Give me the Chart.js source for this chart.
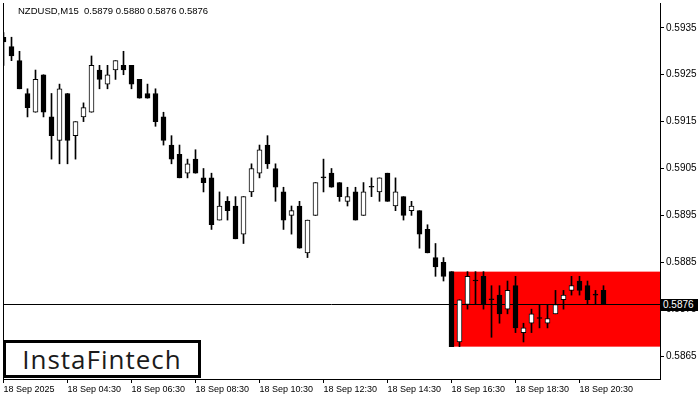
<!DOCTYPE html>
<html>
<head>
<meta charset="utf-8">
<script src="https://cdn.jsdelivr.net/npm/chart.js@4.4.1/dist/chart.umd.min.js"></script>
<style>
  html, body { margin: 0; padding: 0; background: #fff; }
  #wrap { position: relative; width: 700px; height: 400px; overflow: hidden; }
  #title { position: absolute; left: 18px; top: 5px; font: 9.5px "Liberation Sans", Arial, sans-serif; color: #000; white-space: pre; }
  #logo { position: absolute; left: 3px; top: 340px; width: 198px; height: 38px; box-sizing: border-box;
          border: 3px solid #000; background: #fff; font: 26px "Open Sans", sans-serif; letter-spacing: 1px; color: #1b1b1b;
          display: flex; align-items: center; justify-content: center; }
  #price { position: absolute; left: 661px; width: 37px; height: 12px; background: #000; color: #fff;
           font: 10px "Liberation Sans", Arial, sans-serif; line-height: 12px; box-sizing: border-box; padding-left: 2px; }
</style>
</head>
<body>
<div id="wrap">
  <canvas id="chart" width="700" height="400"></canvas>
  <div id="title"></div>
  <div id="logo">InstaFintech</div>
  <div id="price"></div>
</div>
<script>
const symbol = 'NZDUSD,M15';

// M15 candles, 18 Sep 02:30 .. 21:15
const opens = [
  0.5933, 0.5931, 0.5928, 0.5921, 0.5917, 0.5925, 0.5916, 0.5911, 0.5921, 0.5912,
  0.5916, 0.5917, 0.5926, 0.5923, 0.5926, 0.5927, 0.5927, 0.5924, 0.5921, 0.5921,
  0.5916, 0.5910, 0.5908, 0.5904, 0.5907, 0.5903, 0.5903, 0.5894, 0.5898, 0.5897,
  0.5891, 0.5900, 0.5904, 0.5910, 0.5905, 0.5900, 0.5895, 0.5897, 0.5887, 0.5895,
  0.5903, 0.5904, 0.5902, 0.5898, 0.5900, 0.5895, 0.5901, 0.5900, 0.5904, 0.5897,
  0.5899, 0.5896, 0.5896, 0.5892, 0.5886, 0.5885, 0.5883, 0.5868, 0.5876, 0.5881,
  0.5882, 0.5877, 0.5878, 0.5875, 0.5880, 0.5870, 0.5872, 0.5873, 0.5872, 0.5874,
  0.5877, 0.5879, 0.5881, 0.5880, 0.5878, 0.5879
];
const highs = [
  0.5934, 0.5933, 0.5930, 0.5922, 0.5926, 0.5925, 0.5921, 0.5923, 0.5921, 0.5915,
  0.5919, 0.5929, 0.5927, 0.5927, 0.5928, 0.5930, 0.5927, 0.5924, 0.5923, 0.5922,
  0.5917, 0.5912, 0.5910, 0.5907, 0.5909, 0.5905, 0.5904, 0.5900, 0.5899, 0.5899,
  0.5899, 0.5906, 0.5910, 0.5912, 0.5906, 0.5901, 0.5897, 0.5898, 0.5894, 0.5902,
  0.5907, 0.5905, 0.5902, 0.5901, 0.5901, 0.5902, 0.5903, 0.5903, 0.5904, 0.5903,
  0.5899, 0.5898, 0.5896, 0.5893, 0.5889, 0.5886, 0.5883, 0.5877, 0.5883, 0.5883,
  0.5883, 0.5880, 0.5880, 0.5881, 0.5882, 0.5872, 0.5875, 0.5876, 0.5876, 0.5879,
  0.5879, 0.5882, 0.5882, 0.5881, 0.5879, 0.5880
];
const lows = [
  0.5927, 0.5928, 0.5922, 0.5916, 0.5917, 0.5916, 0.5907, 0.5906, 0.5906, 0.5907,
  0.5915, 0.5917, 0.5922, 0.5922, 0.5924, 0.5925, 0.5922, 0.5920, 0.5920, 0.5914,
  0.5910, 0.5906, 0.5903, 0.5903, 0.5904, 0.5900, 0.5892, 0.5894, 0.5894, 0.5890,
  0.5889, 0.5899, 0.5903, 0.5905, 0.5898, 0.5892, 0.5891, 0.5888, 0.5886, 0.5895,
  0.5900, 0.5901, 0.5898, 0.5897, 0.5894, 0.5895, 0.5899, 0.5898, 0.5898, 0.5896,
  0.5894, 0.5895, 0.5888, 0.5887, 0.5882, 0.5881, 0.5867, 0.5867, 0.5875, 0.5876,
  0.5875, 0.5869, 0.5872, 0.5874, 0.5870, 0.5868, 0.5870, 0.5871, 0.5871, 0.5874,
  0.5875, 0.5878, 0.5878, 0.5876, 0.5876, 0.5876
];
const closes = [
  0.5932, 0.5929, 0.5922, 0.5918, 0.5924, 0.5917, 0.5912, 0.5922, 0.5911, 0.5915,
  0.5918, 0.5927, 0.5924, 0.5925, 0.5928, 0.5926, 0.5923, 0.5920, 0.5920, 0.5915,
  0.5911, 0.5907, 0.5903, 0.5906, 0.5904, 0.5902, 0.5893, 0.5897, 0.5896, 0.5890,
  0.5899, 0.5905, 0.5909, 0.5906, 0.5901, 0.5894, 0.5896, 0.5888, 0.5894, 0.5902,
  0.5903, 0.5901, 0.5899, 0.5899, 0.5894, 0.5900, 0.5901, 0.5903, 0.5898, 0.5900,
  0.5895, 0.5897, 0.5891, 0.5887, 0.5884, 0.5882, 0.5867, 0.5877, 0.5882, 0.5881,
  0.5876, 0.5877, 0.5874, 0.5879, 0.5871, 0.5871, 0.5874, 0.5873, 0.5873, 0.5876,
  0.5878, 0.5880, 0.5879, 0.5877, 0.5878, 0.5876
];

// time axis labels, one every 8 bars (2 hours)
const tickLabels = ['18 Sep 2025', '18 Sep 04:30', '18 Sep 06:30', '18 Sep 08:30', '18 Sep 10:30',
                    '18 Sep 12:30', '18 Sep 14:30', '18 Sep 16:30', '18 Sep 18:30', '18 Sep 20:30'];
const tickEvery = 8;
const priceTicks = [0.5865, 0.5875, 0.5885, 0.5895, 0.5905, 0.5915, 0.5925, 0.5935];

// pattern zone (red box)
const patternStart = 56;
const patternHigh = 0.5883;
const patternLow = 0.5867;

const last = closes.length - 1;
const fmt = v => v.toFixed(4);

document.getElementById('title').textContent =
  symbol + '  ' + [opens[last], highs[last], lows[last], closes[last]].map(fmt).join(' ');

const bodies = opens.map((o, i) => ({ x: i, y: [Math.min(o, closes[i]), Math.max(o, closes[i])] }));
const wicks = highs.map((h, i) => ({ x: i, y: [lows[i], h] }));
const bodyColors = opens.map((o, i) => closes[i] > o ? '#ffffff' : '#000000');

const zonePlugin = {
  id: 'zone',
  beforeDatasetsDraw(chart) {
    const { ctx, chartArea: a, scales: { x, y } } = chart;
    ctx.save();
    // red zone
    const x0 = x.getPixelForValue(patternStart);
    const y0 = y.getPixelForValue(patternHigh);
    const y1 = y.getPixelForValue(patternLow);
    ctx.fillStyle = '#ff0000';
    ctx.fillRect(x0, y0, a.right - x0, y1 - y0);
    // bid line
    const py = Math.round(y.getPixelForValue(closes[last])) + 0.5;
    ctx.strokeStyle = '#000';
    ctx.lineWidth = 1;
    ctx.beginPath();
    ctx.moveTo(a.left, py);
    ctx.lineTo(a.right, py);
    ctx.stroke();
    // left frame
    ctx.beginPath();
    ctx.moveTo(a.left + 0.5, a.top);
    ctx.lineTo(a.left + 0.5, a.bottom);
    ctx.stroke();
    ctx.restore();
  }
};

const noPad = s => { s.paddingLeft = 0; s.paddingRight = 0; s.paddingTop = 0; s.paddingBottom = 0; };

const chart = new Chart(document.getElementById('chart'), {
  type: 'bar',
  data: {
    datasets: [
      {
        data: bodies,
        backgroundColor: bodyColors,
        borderColor: '#000',
        borderWidth: 1,
        borderSkipped: false,
        barThickness: 5,
        minBarLength: 1,
        grouped: false
      },
      {
        data: wicks,
        backgroundColor: '#000',
        borderWidth: 0,
        barThickness: 1,
        grouped: false
      }
    ]
  },
  options: {
    responsive: false,
    animation: false,
    devicePixelRatio: 1,
    layout: { padding: { left: 3, top: 3, right: 0, bottom: 0 } },
    plugins: { legend: { display: false }, tooltip: { enabled: false } },
    scales: {
      x: {
        type: 'linear',
        offset: false,
        min: -0.0625,
        max: 82.0625,
        afterBuildTicks: s => { s.ticks = tickLabels.map((_, j) => ({ value: j * tickEvery })); },
        afterFit: s => { s.height = 21; noPad(s); },
        grid: { drawOnChartArea: false, offset: false, tickLength: 4, tickColor: '#000' },
        border: { color: '#000' },
        ticks: {
          align: 'start', maxRotation: 0, autoSkip: false, padding: 1, color: '#000',
          font: { family: 'Liberation Sans', size: 9 },
          callback: (v, i) => tickLabels[i]
        }
      },
      y: {
        position: 'right',
        min: 0.58601,
        max: 0.59403,
        afterBuildTicks: s => { s.ticks = priceTicks.map(v => ({ value: v })); },
        afterFit: s => { s.width = 40; noPad(s); },
        grid: { drawOnChartArea: false, tickLength: 4, tickColor: '#000' },
        border: { color: '#000' },
        ticks: {
          padding: 2, color: '#000',
          font: { family: 'Liberation Sans', size: 10 },
          callback: v => fmt(v)
        }
      }
    }
  },
  plugins: [zonePlugin]
});

// bid price tag on the price scale
const tag = document.getElementById('price');
tag.textContent = fmt(closes[last]);
tag.style.top = (Math.round(chart.scales.y.getPixelForValue(closes[last])) - 5) + 'px';
</script>
</body>
</html>
